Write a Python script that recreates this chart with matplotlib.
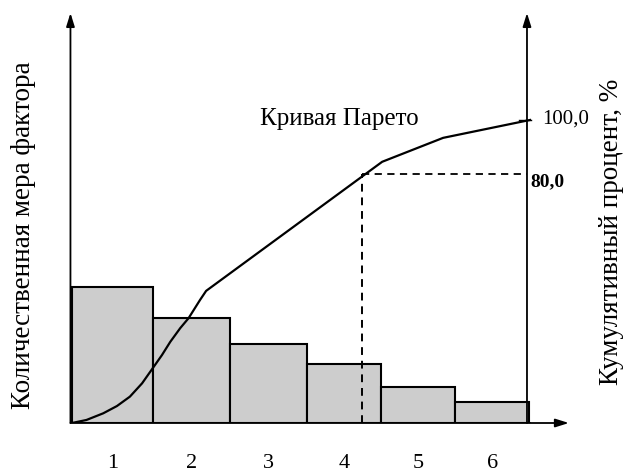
import matplotlib
matplotlib.use('Agg')
import matplotlib.pyplot as plt

plt.rcParams['font.family'] = ['Liberation Serif', 'DejaVu Serif']

# Data
factor_labels = ['1', '2', '3', '4', '5', '6']
bar_edges = [0.0, 1.063, 2.074, 3.085, 4.057, 5.028, 6.0]
bar_share = [31.2, 24.1, 18.2, 13.5, 8.2, 4.8]

# Pareto curve (cumulative percent)
curve_x = [0.0, 0.19, 0.41, 0.59, 0.76, 0.92, 1.06, 1.18, 1.29, 1.42, 1.53, 1.68, 1.76,
           4.07, 4.87, 6.01]
curve_pct = [0.0, 1.0, 3.2, 5.6, 8.7, 13.1, 18.1, 22.4, 26.8, 31.3, 34.6, 40.6, 43.6,
             86.2, 94.1, 100.0]

cut_x = 3.81
cut_pct = 82.2
axis_right_x = 5.97

fig = plt.figure(figsize=(6.35, 4.72), dpi=100)
ax = fig.add_axes([70 / 635, 49 / 472, 505 / 635, 410 / 472])
ax2 = ax.twinx()

for a in (ax, ax2):
    for s in a.spines.values():
        s.set_visible(False)
    a.set_xticks([])
    a.set_yticks([])

ax.set_xlim(-0.026, 6.6)
ax.set_ylim(0, 94.3)
ax2.set_ylim(0, 135.3)

# bars
lefts = bar_edges[:-1]
widths = [bar_edges[i + 1] - bar_edges[i] for i in range(len(bar_share))]
ax.bar(lefts, bar_share, width=widths, align='edge', color='#cdcdcd',
       edgecolor='black', linewidth=1.5, zorder=2)

# axis arrows
arrow_kw = dict(arrowstyle='-|>,head_length=0.8,head_width=0.25', color='black', lw=1.3,
                shrinkA=0, shrinkB=0)
ax.annotate('', xy=(-0.02, 94.3), xytext=(-0.02, 0), arrowprops=arrow_kw, annotation_clip=False)
ax.annotate('', xy=(6.52, 0), xytext=(-0.02, 0), arrowprops=arrow_kw, annotation_clip=False)
ax2.annotate('', xy=(axis_right_x, 135.3), xytext=(axis_right_x, 0), arrowprops=arrow_kw,
             annotation_clip=False)
ax2.plot([0, 6.0], [0, 0], color='black', lw=2, zorder=3)

# Pareto curve
ax2.plot(curve_x, curve_pct, color='black', lw=1.6, zorder=4, solid_joinstyle='round')

# 80% cut lines
ax2.plot([cut_x, cut_x], [0, cut_pct], color='black', lw=1.4, ls=(0, (4, 3)), zorder=4)
ax2.plot([cut_x, axis_right_x], [cut_pct, cut_pct], color='black', lw=1.3, ls=(0, (4, 3)), zorder=4)
ax2.plot([axis_right_x - 0.1, axis_right_x + 0.05], [100, 100], color='black', lw=1.0)

ax2.text(axis_right_x + 0.2, 100.3, '100,0', fontsize=15, va='center', ha='left')
ax2.text(axis_right_x + 0.04, cut_pct - 2.5, '80,0', fontsize=14, va='center', ha='left',
         fontweight='bold')
ax2.text(3.51, 100.3, 'Кривая Парето', fontsize=18, va='center', ha='center')

# factor numbers
centers = [(bar_edges[i] + bar_edges[i + 1]) / 2 for i in range(len(bar_share))]
for c, lab in zip(centers, factor_labels):
    ax.text(c, -9.3, lab, fontsize=16, ha='center', va='center', clip_on=False)

fig.text(24 / 635, 1 - 235 / 472, 'Количественная мера фактора', rotation=90,
         fontsize=19.5, ha='center', va='center')
fig.text(612 / 635, 1 - 232 / 472, 'Кумулятивный процент, %', rotation=90,
         fontsize=19.5, ha='center', va='center')

fig.savefig('out.png', dpi=100)
